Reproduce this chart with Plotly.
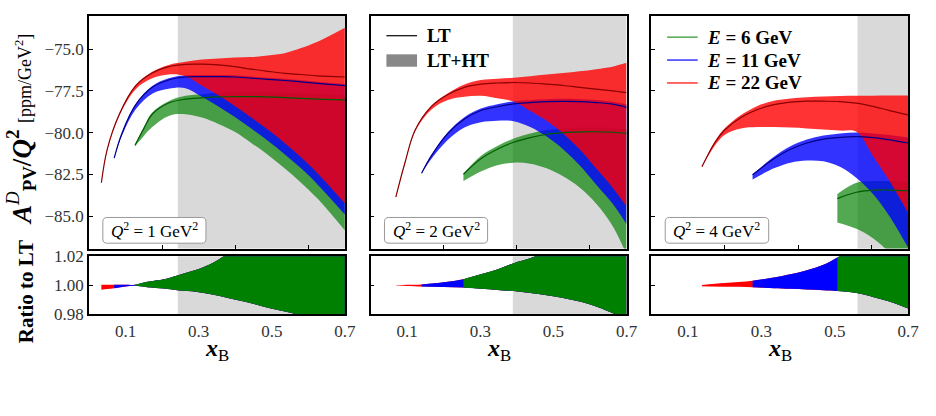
import plotly.graph_objects as go

# ---------------- data ----------------
q2_labels = ["1", "2", "4"]
gray_start = [0.243, 0.389, 0.562]

# ---- Q^2 = 1 GeV^2 ----
p1_red_x = [0.034, 0.05, 0.083, 0.128, 0.173, 0.218, 0.264, 0.309, 0.354, 0.399, 0.444, 0.489, 0.535, 0.58, 0.625, 0.70]
p1_red_lt = [-83.0, -81.0, -78.9, -77.19, -76.43, -76.05, -75.91, -75.9, -75.95, -76.05, -76.2, -76.33, -76.45, -76.52, -76.6, -76.67]
p1_red_up = [-83.0, -81.0, -78.88, -77.15, -76.36, -75.95, -75.76, -75.63, -75.57, -75.51, -75.48, -75.38, -75.25, -74.94, -74.56, -73.72]
p1_red_lo = [-83.0, -81.05, -79.0, -77.4, -76.75, -76.52, -76.62, -77.19, -77.76, -78.4, -79.1, -79.82, -80.62, -81.48, -82.43, -84.24]

p1_blue_x = [0.069, 0.09, 0.128, 0.173, 0.218, 0.264, 0.309, 0.354, 0.399, 0.444, 0.489, 0.535, 0.58, 0.625, 0.70]
p1_blue_lt = [-81.53, -80.05, -78.33, -77.29, -76.85, -76.67, -76.65, -76.65, -76.67, -76.74, -76.81, -76.88, -76.96, -77.05, -77.19]
p1_blue_up = [-81.53, -80.03, -78.28, -77.21, -76.75, -76.57, -76.55, -76.55, -76.57, -76.64, -76.71, -76.78, -76.86, -76.95, -77.09]
p1_blue_lo = [-81.55, -80.2, -78.6, -77.67, -77.38, -77.34, -77.86, -78.43, -79.06, -79.76, -80.49, -81.29, -82.14, -83.1, -84.9]

p1_green_x = [0.126, 0.15, 0.173, 0.218, 0.264, 0.309, 0.354, 0.399, 0.444, 0.489, 0.535, 0.58, 0.625, 0.70]
p1_green_lt = [-80.76, -79.76, -78.9, -78.23, -78.0, -77.92, -77.86, -77.85, -77.84, -77.86, -77.9, -77.95, -78.0, -78.05]
p1_green_up = [-80.74, -79.68, -78.8, -78.12, -77.8, -77.7, -77.62, -77.6, -77.6, -77.6, -77.62, -77.65, -77.7, -77.75]
p1_green_lo = [-80.82, -80.2, -79.67, -79.0, -78.9, -79.1, -79.48, -79.95, -80.62, -81.32, -82.14, -83.0, -83.95, -85.86]

# ---- Q^2 = 2 GeV^2 ----
p2_red_x = [0.069, 0.0945, 0.1215, 0.1665, 0.2115, 0.2565, 0.3015, 0.3465, 0.3915, 0.4365, 0.4815, 0.5265, 0.5715, 0.6165, 0.6615, 0.70]
p2_red_lt = [-83.86, -81.76, -79.86, -78.43, -77.72, -77.29, -77.1, -77.03, -77.0, -77.03, -77.1, -77.18, -77.29, -77.4, -77.5, -77.61]
p2_red_up = [-83.86, -81.75, -79.83, -78.38, -77.64, -77.12, -76.85, -76.77, -76.71, -76.62, -76.52, -76.43, -76.33, -76.2, -76.05, -75.82]
p2_red_lo = [-83.86, -81.8, -79.95, -78.62, -78.05, -77.86, -77.8, -77.95, -78.14, -78.71, -79.29, -80.05, -81.0, -82.14, -83.29, -84.43]

p2_blue_x = [0.1395, 0.1665, 0.2115, 0.2565, 0.3015, 0.3465, 0.3915, 0.4365, 0.4815, 0.5265, 0.5715, 0.6165, 0.6615, 0.70]
p2_blue_lt = [-82.43, -81.38, -80.05, -79.19, -78.68, -78.45, -78.28, -78.2, -78.14, -78.13, -78.14, -78.2, -78.3, -78.49]
p2_blue_up = [-82.43, -81.33, -79.97, -79.08, -78.56, -78.3, -78.12, -78.05, -78.0, -77.98, -78.0, -78.05, -78.15, -78.3]
p2_blue_lo = [-82.45, -81.57, -80.43, -79.7, -79.38, -79.29, -79.32, -79.67, -80.24, -81.0, -81.95, -83.1, -84.24, -85.48]

p2_green_x = [0.254, 0.3015, 0.3465, 0.3915, 0.4365, 0.4815, 0.5265, 0.5715, 0.6165, 0.6615, 0.70]
p2_green_lt = [-82.49, -81.57, -81.0, -80.58, -80.3, -80.1, -80.0, -79.96, -79.95, -79.98, -80.05]
p2_green_up = [-82.45, -81.4, -80.8, -80.35, -80.05, -79.85, -79.75, -79.7, -79.7, -79.72, -79.8]
p2_green_lo = [-82.9, -82.33, -81.95, -81.8, -81.86, -82.14, -82.62, -83.29, -84.24, -85.57, -87.3]

# ---- Q^2 = 4 GeV^2 ----
p3_red_x = [0.138, 0.1725, 0.1995, 0.2444, 0.2893, 0.3342, 0.379, 0.424, 0.469, 0.514, 0.559, 0.604, 0.649, 0.70]
p3_red_lt = [-82.05, -80.62, -79.86, -79.1, -78.62, -78.33, -78.18, -78.12, -78.12, -78.14, -78.24, -78.43, -78.68, -78.94]
p3_red_up = [-82.03, -80.55, -79.76, -78.95, -78.4, -78.1, -77.96, -77.88, -77.84, -77.81, -77.8, -77.79, -77.78, -77.78]
p3_red_lo = [-82.07, -80.8, -80.14, -79.76, -79.67, -79.67, -79.7, -79.75, -79.82, -79.88, -79.95, -81.4, -82.9, -84.81]

p3_blue_x = [0.276, 0.3342, 0.379, 0.424, 0.469, 0.514, 0.559, 0.604, 0.649, 0.70]
p3_blue_lt = [-82.52, -81.57, -81.0, -80.62, -80.39, -80.28, -80.24, -80.3, -80.43, -80.62]
p3_blue_up = [-82.5, -81.45, -80.82, -80.42, -80.18, -80.05, -80.0, -80.05, -80.15, -80.3]
p3_blue_lo = [-82.81, -82.14, -81.8, -81.67, -81.72, -82.05, -82.71, -83.67, -85.0, -86.9]

p3_green_x = [0.507, 0.559, 0.604, 0.649, 0.70]
p3_green_lt = [-83.95, -83.57, -83.44, -83.44, -83.48]
p3_green_up = [-83.67, -83.0, -82.9, -82.9, -82.95]
p3_green_lo = [-85.38, -85.76, -86.33, -87.2, -88.6]

# ---- ratio (LT+HT)/LT bands ----
r1_x = [0.034, 0.05, 0.069, 0.1, 0.126, 0.16, 0.206, 0.242, 0.296, 0.341, 0.386, 0.43, 0.476, 0.52, 0.571, 0.63, 0.70]
r1_up = [1.0004, 1.0003, 1.0003, 1.0003, 1.0004, 1.0024, 1.0042, 1.0068, 1.0108, 1.0156, 1.023, 1.03, 1.037, 1.045, 1.053, 1.063, 1.075]
r1_lo = [0.9969, 0.9975, 0.998, 0.9992, 0.9996, 0.9987, 0.9977, 0.9965, 0.9954, 0.9935, 0.991, 0.9885, 0.9855, 0.9828, 0.98, 0.976, 0.971]
r1_start = [0, 2, 4]   # index where red / blue / green begin

r2_x = [0.069, 0.1, 0.1395, 0.2, 0.254, 0.3015, 0.3465, 0.3915, 0.4365, 0.4815, 0.5265, 0.5715, 0.6165, 0.6706, 0.70]
r2_up = [1.0001, 1.0003, 1.0005, 1.002, 1.0042, 1.0075, 1.0108, 1.0152, 1.0185, 1.024, 1.029, 1.035, 1.041, 1.048, 1.052]
r2_lo = [0.9998, 0.9995, 0.9991, 0.9988, 0.9985, 0.9976, 0.9968, 0.996, 0.9947, 0.9932, 0.9912, 0.9888, 0.9855, 0.98, 0.9765]
r2_start = [0, 2, 4]

r3_x = [0.138, 0.2, 0.276, 0.334, 0.379, 0.424, 0.469, 0.507, 0.559, 0.604, 0.649, 0.70]
r3_up = [1.0002, 1.0015, 1.0031, 1.0053, 1.0075, 1.0103, 1.0141, 1.0191, 1.027, 1.034, 1.042, 1.05]
r3_lo = [0.9993, 0.999, 0.9987, 0.998, 0.9976, 0.9971, 0.9966, 0.996, 0.9947, 0.992, 0.9888, 0.984]
r3_start = [0, 2, 7]

energies = ["6", "11", "22"]

# ---------------- style ----------------
FONT = "Liberation Serif"
BAND = {"red": "rgba(255,0,0,0.8)", "blue": "rgba(0,0,255,0.8)", "green": "rgba(0,128,0,0.68)"}
LTC = {"red": "#8b0000", "blue": "#00008b", "green": "#005c00"}
SOLID = {"red": "#ff0000", "blue": "#0000ff", "green": "#008000"}

W, H = 936, 416
xdom = [(90 / W, 349 / W), (375 / W, 634 / W), (659 / W, 919 / W)]
ytop = ((416 - 251) / H, (416 - 7) / H)
ybot = ((416 - 320) / H, (416 - 259) / H)
YR_TOP = [-86.94, -73.0]
YR_BOT = [0.98, 1.02]


def px(xp):
    return xp / W


def py(yp):
    return (H - yp) / H


fig = go.Figure()

top_data = [
    {"green": (p1_green_x, p1_green_lt, p1_green_up, p1_green_lo),
     "blue": (p1_blue_x, p1_blue_lt, p1_blue_up, p1_blue_lo),
     "red": (p1_red_x, p1_red_lt, p1_red_up, p1_red_lo)},
    {"green": (p2_green_x, p2_green_lt, p2_green_up, p2_green_lo),
     "blue": (p2_blue_x, p2_blue_lt, p2_blue_up, p2_blue_lo),
     "red": (p2_red_x, p2_red_lt, p2_red_up, p2_red_lo)},
    {"green": (p3_green_x, p3_green_lt, p3_green_up, p3_green_lo),
     "blue": (p3_blue_x, p3_blue_lt, p3_blue_up, p3_blue_lo),
     "red": (p3_red_x, p3_red_lt, p3_red_up, p3_red_lo)},
]
ratio_data = [(r1_x, r1_up, r1_lo, r1_start), (r2_x, r2_up, r2_lo, r2_start), (r3_x, r3_up, r3_lo, r3_start)]

for i in range(3):
    xa = "x" if i == 0 else f"x{i+1}"
    ya = "y" if i == 0 else f"y{i+1}"
    d = top_data[i]
    for c in ["green", "blue", "red"]:
        x, lt, up, lo = d[c]
        fig.add_trace(go.Scatter(x=x, y=lo, mode="lines", line=dict(width=0, shape="spline"),
                                 xaxis=xa, yaxis=ya, showlegend=False, hoverinfo="skip"))
        fig.add_trace(go.Scatter(x=x, y=up, mode="lines", line=dict(width=0, shape="spline"),
                                 fill="tonexty", fillcolor=BAND[c],
                                 xaxis=xa, yaxis=ya, showlegend=False, hoverinfo="skip"))
    for c in ["green", "blue", "red"]:
        x, lt, up, lo = d[c]
        fig.add_trace(go.Scatter(x=x, y=lt, mode="lines", line=dict(width=1.2, color=LTC[c], shape="spline"),
                                 xaxis=xa, yaxis=ya, showlegend=False, hoverinfo="skip"))
    xb = f"x{i+4}"
    yb = f"y{i+4}"
    rx, rup, rlo, rst = ratio_data[i]
    for c, s in zip(["red", "blue", "green"], rst):
        fig.add_trace(go.Scatter(x=rx[s:], y=rlo[s:], mode="lines", line=dict(width=0, shape="spline"),
                                 xaxis=xb, yaxis=yb, showlegend=False, hoverinfo="skip"))
        fig.add_trace(go.Scatter(x=rx[s:], y=rup[s:], mode="lines", line=dict(width=0, shape="spline"),
                                 fill="tonexty", fillcolor=SOLID[c],
                                 xaxis=xb, yaxis=yb, showlegend=False, hoverinfo="skip"))

shapes = []
annotations = []
axis_common = dict(showgrid=False, zeroline=False, showline=True, linecolor="black", linewidth=1.5,
                   mirror=True, ticks="inside", ticklen=4, tickwidth=1, tickcolor="black",
                   tickfont=dict(family=FONT, size=17, color="#333"))
layout = {}
for i in range(3):
    n = "" if i == 0 else str(i + 1)
    layout[f"xaxis{n}"] = dict(axis_common, domain=list(xdom[i]), range=[0, 0.7], anchor=f"y{n}",
                                tickvals=[0.2, 0.4, 0.6], showticklabels=False)
    layout[f"yaxis{n}"] = dict(axis_common, domain=list(ytop), range=YR_TOP, anchor=f"x{n}",
                                tickvals=[-85, -82.5, -80, -77.5, -75], tickformat=".1f",
                                showticklabels=(i == 0))
    m = str(i + 4)
    layout[f"xaxis{m}"] = dict(axis_common, domain=list(xdom[i]), range=[0, 0.7], anchor=f"y{m}",
                                tickvals=[0.1, 0.3, 0.5, 0.7], tickformat=".1f", ticks="")
    layout[f"yaxis{m}"] = dict(axis_common, domain=list(ybot), range=YR_BOT, anchor=f"x{m}",
                                tickvals=[0.98, 1.0, 1.02], tickformat=".2f", showticklabels=(i == 0))
    xr = "x" + n
    yr = "y" + n
    shapes.append(dict(type="rect", xref=xr, yref=f"y{n} domain", x0=gray_start[i], x1=0.7, y0=0, y1=1,
                       fillcolor="#d9d9d9", line=dict(width=0), layer="below"))
    shapes.append(dict(type="rect", xref="x" + m, yref=f"y{m} domain", x0=gray_start[i], x1=0.7, y0=0, y1=1,
                       fillcolor="#d9d9d9", line=dict(width=0), layer="below"))
    bx0, bx1, by0, by1 = 0.038, 0.32, -86.62, -85.08
    rx_, ry_ = 0.012, 0.25
    path = (f"M {bx0+rx_},{by0} L {bx1-rx_},{by0} Q {bx1},{by0} {bx1},{by0+ry_} "
            f"L {bx1},{by1-ry_} Q {bx1},{by1} {bx1-rx_},{by1} L {bx0+rx_},{by1} "
            f"Q {bx0},{by1} {bx0},{by1-ry_} L {bx0},{by0+ry_} Q {bx0},{by0} {bx0+rx_},{by0} Z")
    shapes.append(dict(type="path", path=path, xref=xr, yref=yr, fillcolor="white",
                       line=dict(color="#999999", width=1), layer="above"))
    annotations.append(dict(x=(bx0 + bx1) / 2, y=(by0 + by1) / 2, xref=xr, yref=yr, showarrow=False,
                            xanchor="center", yanchor="middle",
                            text=f"<i>Q</i><sup>2</sup> = {q2_labels[i]} GeV<sup>2</sup>",
                            font=dict(family=FONT, size=17, color="black")))
    annotations.append(dict(x=(xdom[i][0] + xdom[i][1]) / 2, y=py(357), xref="paper", yref="paper",
                            showarrow=False, xanchor="center", yanchor="middle",
                            text="<b><i>x</i></b><sub>B</sub>",
                            font=dict(family=FONT, size=24, color="black")))

# axis titles
annotations.append(dict(x=px(22), y=py(126), xref="paper", yref="paper", showarrow=False, textangle=-90,
                        xanchor="center", yanchor="middle",
                        text="<b><i>A</i></b><sup><i>D</i></sup><sub><b>PV</b></sub><b>/<i>Q</i><sup>2</sup></b>"
                             " <span style='font-size:18px'>[ppm/GeV<sup>2</sup>]</span>",
                        font=dict(family=FONT, size=27, color="black")))
annotations.append(dict(x=px(27), y=py(296), xref="paper", yref="paper", showarrow=False, textangle=-90,
                        xanchor="center", yanchor="middle",
                        text="<b>Ratio to LT</b>", font=dict(family=FONT, size=21, color="black")))

# manual legends
LFONT = dict(family=FONT, size=19, color="black")
shapes.append(dict(type="line", xref="paper", yref="paper", x0=px(391), x1=px(422), y0=py(28), y1=py(28),
                   line=dict(color="black", width=1.2)))
annotations.append(dict(x=px(430), y=py(28), xref="paper", yref="paper", showarrow=False,
                        xanchor="left", yanchor="middle", text="<b>LT</b>", font=LFONT))
shapes.append(dict(type="rect", xref="paper", yref="paper", x0=px(391), x1=px(422), y0=py(60.5), y1=py(47.5),
                   fillcolor="#888888", line=dict(width=0)))
annotations.append(dict(x=px(430), y=py(54), xref="paper", yref="paper", showarrow=False,
                        xanchor="left", yanchor="middle", text="<b>LT+HT</b>", font=LFONT))
for k, (e, c) in enumerate(zip(energies, ["green", "blue", "red"])):
    yy = [29.5, 53.5, 77.5][k]
    shapes.append(dict(type="line", xref="paper", yref="paper", x0=px(675), x1=px(706), y0=py(yy), y1=py(yy),
                       line=dict(color=BAND[c], width=1.5)))
    annotations.append(dict(x=px(713), y=py(yy), xref="paper", yref="paper", showarrow=False,
                            xanchor="left", yanchor="middle", text=f"<b><i>E</i> = {e} GeV</b>", font=LFONT))

fig.update_layout(
    width=W, height=H, margin=dict(l=0, r=0, t=0, b=0),
    plot_bgcolor="white", paper_bgcolor="white", showlegend=False,
    shapes=shapes, annotations=annotations,
    **layout,
)

fig.write_html("out.html")
